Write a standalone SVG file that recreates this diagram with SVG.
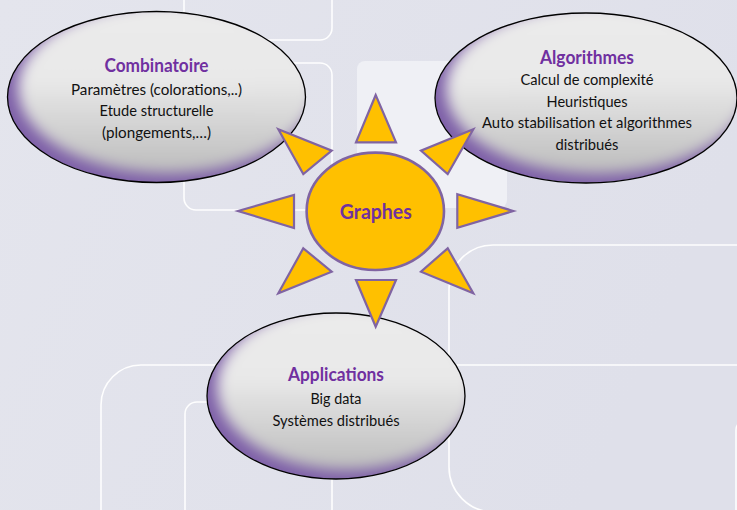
<svg xmlns="http://www.w3.org/2000/svg" width="737" height="510" viewBox="0 0 737 510">
<style>
.deco{fill:none;stroke:#ffffff;stroke-width:1.6;opacity:0.95}
.title{font-family:Lato,"Open Sans","Liberation Sans",sans-serif;font-weight:bold;font-size:18px;fill:#7030A0;text-anchor:middle}
.body{font-family:Lato,"Open Sans","Liberation Sans",sans-serif;font-size:15px;fill:#111111;text-anchor:middle}
.ray{fill:#FFC000;stroke:#8064A2;stroke-width:2.2;stroke-linejoin:miter}
.edge{fill:none;stroke:#000000;stroke-width:1.3}
.shade{fill:#7e60a8}
.lite{fill:url(#gray);filter:url(#blur)}
</style>
<defs>
<linearGradient id="bg" x1="0" y1="0" x2="1" y2="0.3">
<stop offset="0" stop-color="#e4e5ed"/>
<stop offset="1" stop-color="#dfe0ea"/>
</linearGradient>
<linearGradient id="gray" x1="0" y1="0" x2="0" y2="1">
<stop offset="0" stop-color="#ebebeb"/>
<stop offset="0.45" stop-color="#e9e9e9"/>
<stop offset="1" stop-color="#bcbcbc"/>
</linearGradient>
<filter id="blur" x="-20%" y="-20%" width="140%" height="140%">
<feGaussianBlur stdDeviation="7"/>
</filter>
<clipPath id="cC"><ellipse cx="156.5" cy="97" rx="149" ry="85.5"/></clipPath>
<clipPath id="cA"><ellipse cx="586" cy="98" rx="151" ry="85"/></clipPath>
<clipPath id="cP"><ellipse cx="336" cy="396" rx="129" ry="83"/></clipPath>
</defs>

<g id="background">
<rect x="0" y="0" width="737" height="510" fill="url(#bg)"/>
<path class="deco" d="M184,0 V28 A12,12 0 0 0 196,40 H320 A12,12 0 0 0 332,28 V0"/>
<rect class="deco" x="184" y="63" width="148" height="147" rx="12"/>
<rect x="357" y="61" width="150" height="147" rx="8" fill="#eff0f5"/>
<path class="deco" d="M737,245 H493 A44,44 0 0 0 449,289 V467 A45,45 0 0 0 494,512"/>
<path class="deco" d="M101,512 V405 A40,40 0 0 1 141,365 H737"/>
<path class="deco" d="M185,512 V414 A12,12 0 0 1 197,402 H240"/>
<path class="deco" d="M332,465 V512"/>
<path class="deco" d="M745,420 A10,10 0 0 0 736,430 V512"/>
</g>

<g id="combinatoire">
<g clip-path="url(#cC)">
<ellipse class="shade" cx="156.5" cy="97" rx="149" ry="85.5"/>
<ellipse class="lite" cx="167" cy="88" rx="149" ry="85.5"/>
</g>
<ellipse class="edge" cx="156.5" cy="97" rx="149" ry="85.5"/>
<text class="title" x="156.5" y="71.5" textLength="104" lengthAdjust="spacingAndGlyphs">Combinatoire</text>
<text class="body" x="156.5" y="94.5" textLength="171" lengthAdjust="spacingAndGlyphs">Paramètres (colorations,..)</text>
<text class="body" x="156.5" y="116" textLength="114" lengthAdjust="spacingAndGlyphs">Etude structurelle</text>
<text class="body" x="156.5" y="137.5" textLength="109" lengthAdjust="spacingAndGlyphs">(plongements,…)</text>
</g>

<g id="algorithmes">
<g clip-path="url(#cA)">
<ellipse class="shade" cx="586" cy="98" rx="151" ry="85"/>
<ellipse class="lite" cx="597" cy="89" rx="151" ry="85"/>
</g>
<ellipse class="edge" cx="586" cy="98" rx="151" ry="85"/>
<text class="title" x="587" y="63.5" textLength="94" lengthAdjust="spacingAndGlyphs">Algorithmes</text>
<text class="body" x="587" y="85" textLength="133" lengthAdjust="spacingAndGlyphs">Calcul de complexité</text>
<text class="body" x="587" y="106.5" textLength="81" lengthAdjust="spacingAndGlyphs">Heuristiques</text>
<text class="body" x="587" y="128" textLength="210" lengthAdjust="spacingAndGlyphs">Auto stabilisation et algorithmes</text>
<text class="body" x="587" y="149.5" textLength="63" lengthAdjust="spacingAndGlyphs">distribués</text>
</g>

<g id="applications">
<g clip-path="url(#cP)">
<ellipse class="shade" cx="336" cy="396" rx="129" ry="83"/>
<ellipse class="lite" cx="346" cy="387" rx="129" ry="83"/>
</g>
<ellipse class="edge" cx="336" cy="396" rx="129" ry="83"/>
<text class="title" x="336" y="381" textLength="96" lengthAdjust="spacingAndGlyphs">Applications</text>
<text class="body" x="336" y="403.5" textLength="51" lengthAdjust="spacingAndGlyphs">Big data</text>
<text class="body" x="336" y="425.5" textLength="127" lengthAdjust="spacingAndGlyphs">Systèmes distribués</text>
</g>

<g id="connectors">
<polygon class="ray" points="375.7,95 356,142.3 396,142.3"/>
<polygon class="ray" points="375.7,326.7 356,280 396,280"/>
<polygon class="ray" points="238,211 294,195 294,228"/>
<polygon class="ray" points="513.3,211 457.3,194.3 457.3,227.7"/>
<polygon class="ray" points="278.3,129.3 331.7,150.7 303.3,174"/>
<polygon class="ray" points="473.3,129.3 421,150.7 447.7,174"/>
<polygon class="ray" points="303.3,248.3 331.7,271.7 278.3,293.3"/>
<polygon class="ray" points="447.7,248.3 421,271.7 473.3,293.3"/>
</g>

<g id="graphes">
<ellipse cx="375.3" cy="211.3" rx="68.7" ry="58.7" fill="#FFC000" stroke="#8064A2" stroke-width="2.6"/>
<text x="375.8" y="218.5" font-family="Lato,'Open Sans','Liberation Sans',sans-serif" font-weight="bold" font-size="21" fill="#7030A0" text-anchor="middle" textLength="72" lengthAdjust="spacingAndGlyphs">Graphes</text>
</g>
</svg>
